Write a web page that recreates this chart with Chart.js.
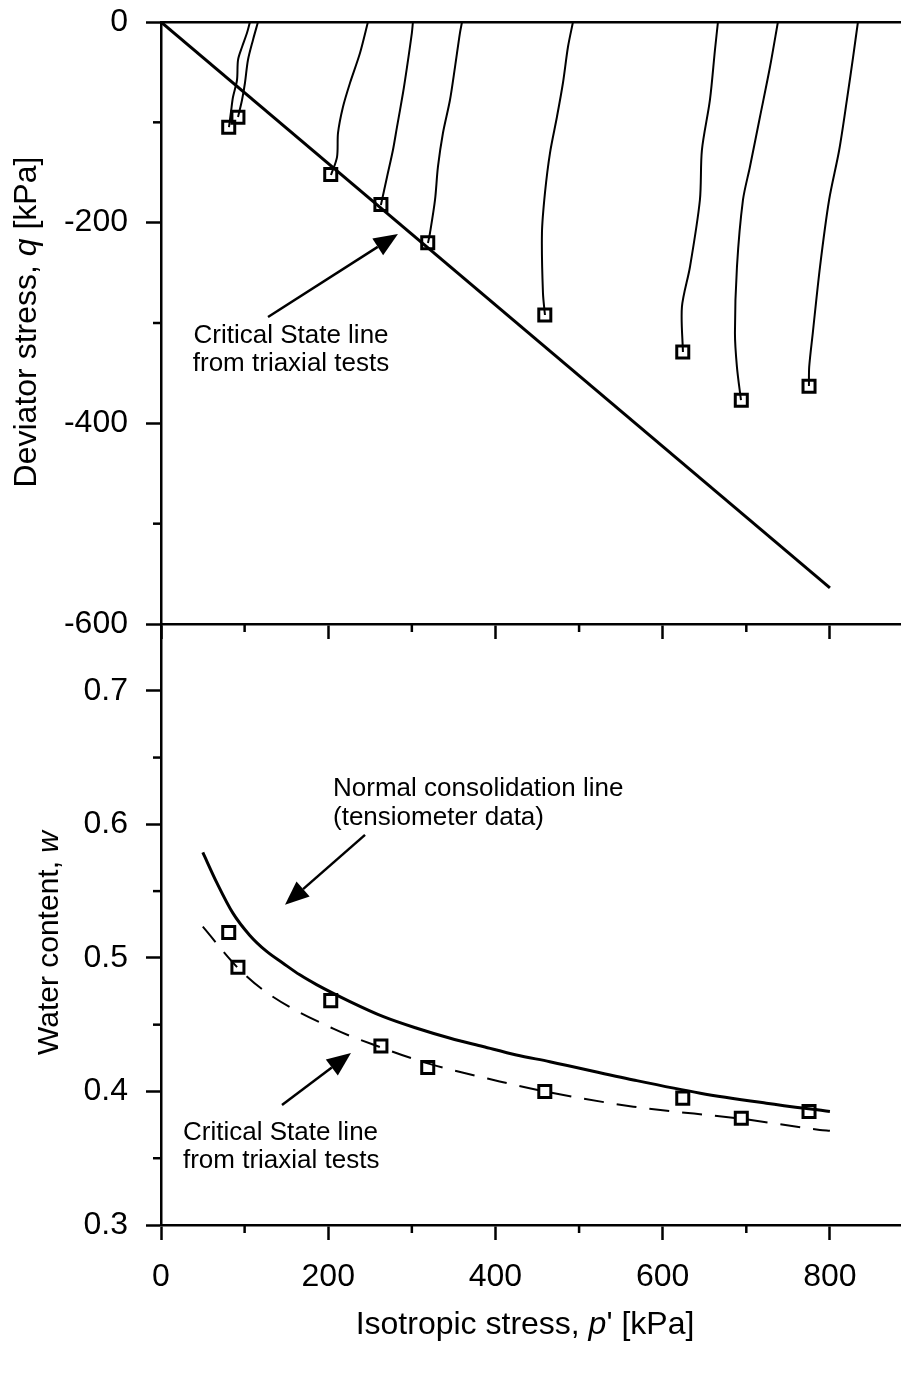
<!DOCTYPE html>
<html>
<head>
<meta charset="utf-8">
<script src="https://cdn.jsdelivr.net/npm/chart.js@4.4.1/dist/chart.umd.min.js"></script>
<style>
  html, body { margin: 0; padding: 0; background: #fff; }
  #wrap { position: relative; width: 901px; height: 1381px; }
  .box { position: absolute; left: 0; width: 901px; }
  #topBox { top: 0; height: 650px; }
  #botBox { top: 600px; height: 781px; }
</style>
</head>
<body>
<div id="wrap">
  <div class="box" id="topBox"><canvas id="topChart"></canvas></div>
  <div class="box" id="botBox"><canvas id="botChart"></canvas></div>
</div>
<script>
// end points of the tests (squares)
var testP = [81, 92, 203, 263, 319, 459, 624, 694, 775];
var testQ = [-105, -95, -152, -182, -220, -292, -329, -377, -363];
var testW = [0.519, 0.493, 0.468, 0.434, 0.418, 0.400, 0.395, 0.380, 0.385];

// stress paths, read from the end point up to q = 0
var pathP = [
  [81.3, 83.7, 86.1, 90.9, 92.1, 96.9, 102.8, 106.4],
  [92.1, 96.9, 100.4, 104, 110, 116],
  [203.3, 210.5, 211.7, 217.6, 226, 238, 247.5],
  [263, 270.3, 277.4, 282.2, 289.4, 294.2, 300, 301.3],
  [319.3, 321.7, 327.7, 331.2, 337.2, 345.6, 351.6, 357.5, 360],
  [459.2, 456.8, 455.6, 459.2, 465.2, 473.5, 480.7, 486.7, 492.7],
  [624.2, 623, 632.6, 644.5, 646.9, 656.5, 662.5, 666.1],
  [693.6, 688.8, 686.4, 688.8, 696, 704.3, 716.3, 728.3, 737.8],
  [774.9, 775.2, 779.5, 788.1, 799, 811.1, 820.3, 827.7, 833.5]
];
var pathQ = [
  [-104.7, -89.7, -74.8, -57.8, -37.9, -24.9, -11, 0],
  [-94.7, -77.7, -60.8, -37.9, -17.9, 0],
  [-152.5, -134.6, -110.6, -84.7, -60.8, -30.9, 0],
  [-182.4, -154.5, -127.6, -104.7, -70.8, -44.9, -11, 0],
  [-220.3, -210.3, -177.4, -144.5, -110.6, -77.7, -44.9, -11, 0],
  [-292, -270, -210.3, -170.4, -130.6, -94.7, -60.8, -24.9, 0],
  [-329, -284, -244.2, -177.4, -127.6, -77.7, -27.9, 0],
  [-376.8, -343.9, -310, -244.2, -177.4, -144.5, -94.7, -44.9, 0],
  [-362.8, -343.9, -310, -244.2, -177.4, -127.6, -77.7, -34.9, 0]
];

// critical state line in the q - p' plane
var cslQP = [0, 800];
var cslQQ = [0, -564];

// normal consolidation line (tensiometer data)
var nclP = [50, 67, 86, 106, 126, 146, 166, 186, 226, 266, 306, 346, 385, 425, 465, 565, 645, 724, 800];
var nclW = [0.579, 0.556, 0.5335, 0.517, 0.505, 0.496, 0.4873, 0.480, 0.4673, 0.456, 0.4473, 0.4398, 0.4336, 0.4273, 0.4223, 0.4086, 0.3987, 0.3912, 0.3849];

// critical state line in the w - p' plane
var cslWP = [50, 92, 127, 206, 263, 319, 405, 460, 565, 696, 788, 800];
var cslWW = [0.5234, 0.4925, 0.4738, 0.447, 0.433, 0.421, 0.4075, 0.3999, 0.3886, 0.3794, 0.3712, 0.3705];

var xMinor = [100, 300, 500, 700];
var qMinor = [-100, -300, -500];
var wMinor = [0.35, 0.45, 0.55, 0.65];

var FONT = '"Liberation Sans", Arial, sans-serif';
var TICK_SIZE = 32, NOTE_SIZE = 26;

function pts(xs, ys) {
  return xs.map(function (x, i) { return { x: x, y: ys[i] }; });
}

function drawRich(ctx, parts, x, y, angle, size) {
  ctx.save();
  ctx.translate(x, y);
  ctx.rotate(angle);
  ctx.textBaseline = 'middle';
  ctx.textAlign = 'left';
  var total = 0;
  parts.forEach(function (p) {
    ctx.font = (p[1] ? 'italic ' : '') + size + 'px ' + FONT;
    total += ctx.measureText(p[0]).width;
  });
  var cx = -total / 2;
  parts.forEach(function (p) {
    ctx.font = (p[1] ? 'italic ' : '') + size + 'px ' + FONT;
    ctx.fillText(p[0], cx, 0);
    cx += ctx.measureText(p[0]).width;
  });
  ctx.restore();
}

function arrow(ctx, x1, y1, x2, y2) {
  var a = Math.atan2(y2 - y1, x2 - x1), len = 24, hw = 10;
  var bx = x2 - len * Math.cos(a), by = y2 - len * Math.sin(a);
  ctx.beginPath();
  ctx.moveTo(x1, y1);
  ctx.lineTo(bx, by);
  ctx.stroke();
  ctx.beginPath();
  ctx.moveTo(x2, y2);
  ctx.lineTo(bx + hw * Math.sin(a), by - hw * Math.cos(a));
  ctx.lineTo(bx - hw * Math.sin(a), by + hw * Math.cos(a));
  ctx.closePath();
  ctx.fill();
}

// minor ticks, arrows, notes and axis titles
var decor = {
  id: 'decor',
  afterDraw: function (chart, args, o) {
    var ctx = chart.ctx, xs = chart.scales.x, ys = chart.scales.y, area = chart.chartArea;
    ctx.save();
    ctx.strokeStyle = '#000';
    ctx.fillStyle = '#000';
    ctx.lineWidth = 2.5;
    o.minorX.forEach(function (v) {
      var px = xs.getPixelForValue(v);
      ctx.beginPath();
      ctx.moveTo(px, area.bottom);
      ctx.lineTo(px, area.bottom + 8);
      ctx.stroke();
    });
    o.minorY.forEach(function (v) {
      var py = ys.getPixelForValue(v);
      ctx.beginPath();
      ctx.moveTo(area.left, py);
      ctx.lineTo(area.left - 8, py);
      ctx.stroke();
    });
    o.arrows.forEach(function (a) {
      arrow(ctx, xs.getPixelForValue(a[0]), ys.getPixelForValue(a[1]),
        xs.getPixelForValue(a[2]), ys.getPixelForValue(a[3]));
    });
    ctx.font = NOTE_SIZE + 'px ' + FONT;
    ctx.textBaseline = 'middle';
    o.notes.forEach(function (n) {
      ctx.textAlign = n.align;
      ctx.fillText(n.text, xs.getPixelForValue(n.x), ys.getPixelForValue(n.y));
    });
    o.titles.forEach(function (t) {
      drawRich(ctx, t.parts, t.x, t.y, t.angle, t.size);
    });
    ctx.restore();
  }
};

function noPad(s) {
  s.paddingTop = 0;
  s.paddingBottom = 0;
  s.paddingLeft = 0;
  s.paddingRight = 0;
}

function xScale(showLabels, height) {
  return {
    type: 'linear', position: 'bottom', min: 0, max: 885,
    border: { display: true, color: '#000', width: 2.5 },
    grid: { drawOnChartArea: false, drawTicks: true, tickLength: 15, tickColor: '#000', tickWidth: 2.5 },
    ticks: {
      display: showLabels, stepSize: 200, includeBounds: false, color: '#000', padding: 18,
      font: { family: FONT, size: TICK_SIZE }
    },
    afterFit: function (s) { s.height = height; noPad(s); }
  };
}

function yScale(min, max, step, fmt) {
  return {
    type: 'linear', position: 'left', min: min, max: max,
    border: { display: true, color: '#000', width: 2.5 },
    grid: { drawOnChartArea: false, drawTicks: true, tickLength: 15, tickColor: '#000', tickWidth: 2.5 },
    ticks: {
      stepSize: step, includeBounds: false, color: '#000', padding: 18,
      font: { family: FONT, size: TICK_SIZE },
      callback: fmt
    },
    afterFit: function (s) { s.width = 161; noPad(s); }
  };
}

var markerStyle = {
  showLine: false, pointStyle: 'rect', pointRadius: 8.5, pointBorderWidth: 3,
  pointBorderColor: '#000', pointBackgroundColor: 'rgba(0,0,0,0)', pointHoverRadius: 8.5
};

// ---- top panel: deviator stress
var topSets = pathP.map(function (p, i) {
  return {
    data: pts(p, pathQ[i]), showLine: true, borderColor: '#000', borderWidth: 2,
    pointRadius: 0, tension: 0.3
  };
});
topSets.push({ data: pts(cslQP, cslQQ), showLine: true, borderColor: '#000', borderWidth: 3, pointRadius: 0 });
topSets.push(Object.assign({ data: pts(testP, testQ) }, markerStyle));

new Chart(document.getElementById('topChart'), {
  type: 'scatter',
  data: { datasets: topSets },
  options: {
    responsive: true, maintainAspectRatio: false, animation: false,
    layout: { padding: 0, autoPadding: false },
    plugins: {
      legend: { display: false }, tooltip: { enabled: false },
      decor: {
        minorX: xMinor, minorY: qMinor,
        arrows: [[128, -294, 283.4, -211.3]],
        notes: [
          { text: 'Critical State line', x: 155.5, y: -313, align: 'center' },
          { text: 'from triaxial tests', x: 155.5, y: -341, align: 'center' }
        ],
        titles: [
          { parts: [['Deviator stress, ', false], ['q', true], [' [kPa]', false]], x: 27, y: 322, angle: -Math.PI / 2, size: 32 }
        ]
      }
    },
    scales: {
      x: xScale(false, 26),
      xTop: {
        type: 'linear', position: 'top', min: 0, max: 885,
        border: { display: true, color: '#000', width: 2.5 },
        grid: { display: false, drawTicks: false },
        ticks: { display: false },
        afterFit: function (s) { s.height = 22; noPad(s); }
      },
      y: yScale(-600, 0, 200, function (v) { return String(v); })
    }
  },
  plugins: [decor]
});

// ---- bottom panel: water content
var botSets = [
  { data: pts(nclP, nclW), showLine: true, borderColor: '#000', borderWidth: 3, pointRadius: 0, cubicInterpolationMode: 'monotone' },
  { data: pts(cslWP, cslWW), showLine: true, borderColor: '#000', borderWidth: 2, borderDash: [20, 13], pointRadius: 0, cubicInterpolationMode: 'monotone' },
  Object.assign({ data: pts(testP, testW) }, markerStyle)
];

new Chart(document.getElementById('botChart'), {
  type: 'scatter',
  data: { datasets: botSets },
  options: {
    responsive: true, maintainAspectRatio: false, animation: false,
    layout: { padding: { top: 24, left: 0, right: 0, bottom: 0 }, autoPadding: false },
    plugins: {
      legend: { display: false }, tooltip: { enabled: false },
      decor: {
        minorX: xMinor, minorY: wMinor,
        arrows: [[244, 0.5921, 148.3, 0.5397], [144.7, 0.3899, 227.2, 0.4288]],
        notes: [
          { text: 'Normal consolidation line', x: 205.7, y: 0.6266, align: 'left' },
          { text: '(tensiometer data)', x: 205.7, y: 0.6049, align: 'left' },
          { text: 'Critical State line', x: 26.3, y: 0.3689, align: 'left' },
          { text: 'from triaxial tests', x: 26.3, y: 0.3479, align: 'left' }
        ],
        titles: [
          { parts: [['Water content, ', false], ['w', true]], x: 50, y: 343, angle: -Math.PI / 2, size: 30 },
          { parts: [['Isotropic stress, ', false], ['p', true], ["' [kPa]", false]], x: 525, y: 725, angle: 0, size: 32 }
        ]
      }
    },
    scales: {
      x: xScale(true, 156),
      y: yScale(0.3, 0.75, 0.1, function (v) { return v.toFixed(1); })
    }
  },
  plugins: [decor]
});
</script>
</body>
</html>
